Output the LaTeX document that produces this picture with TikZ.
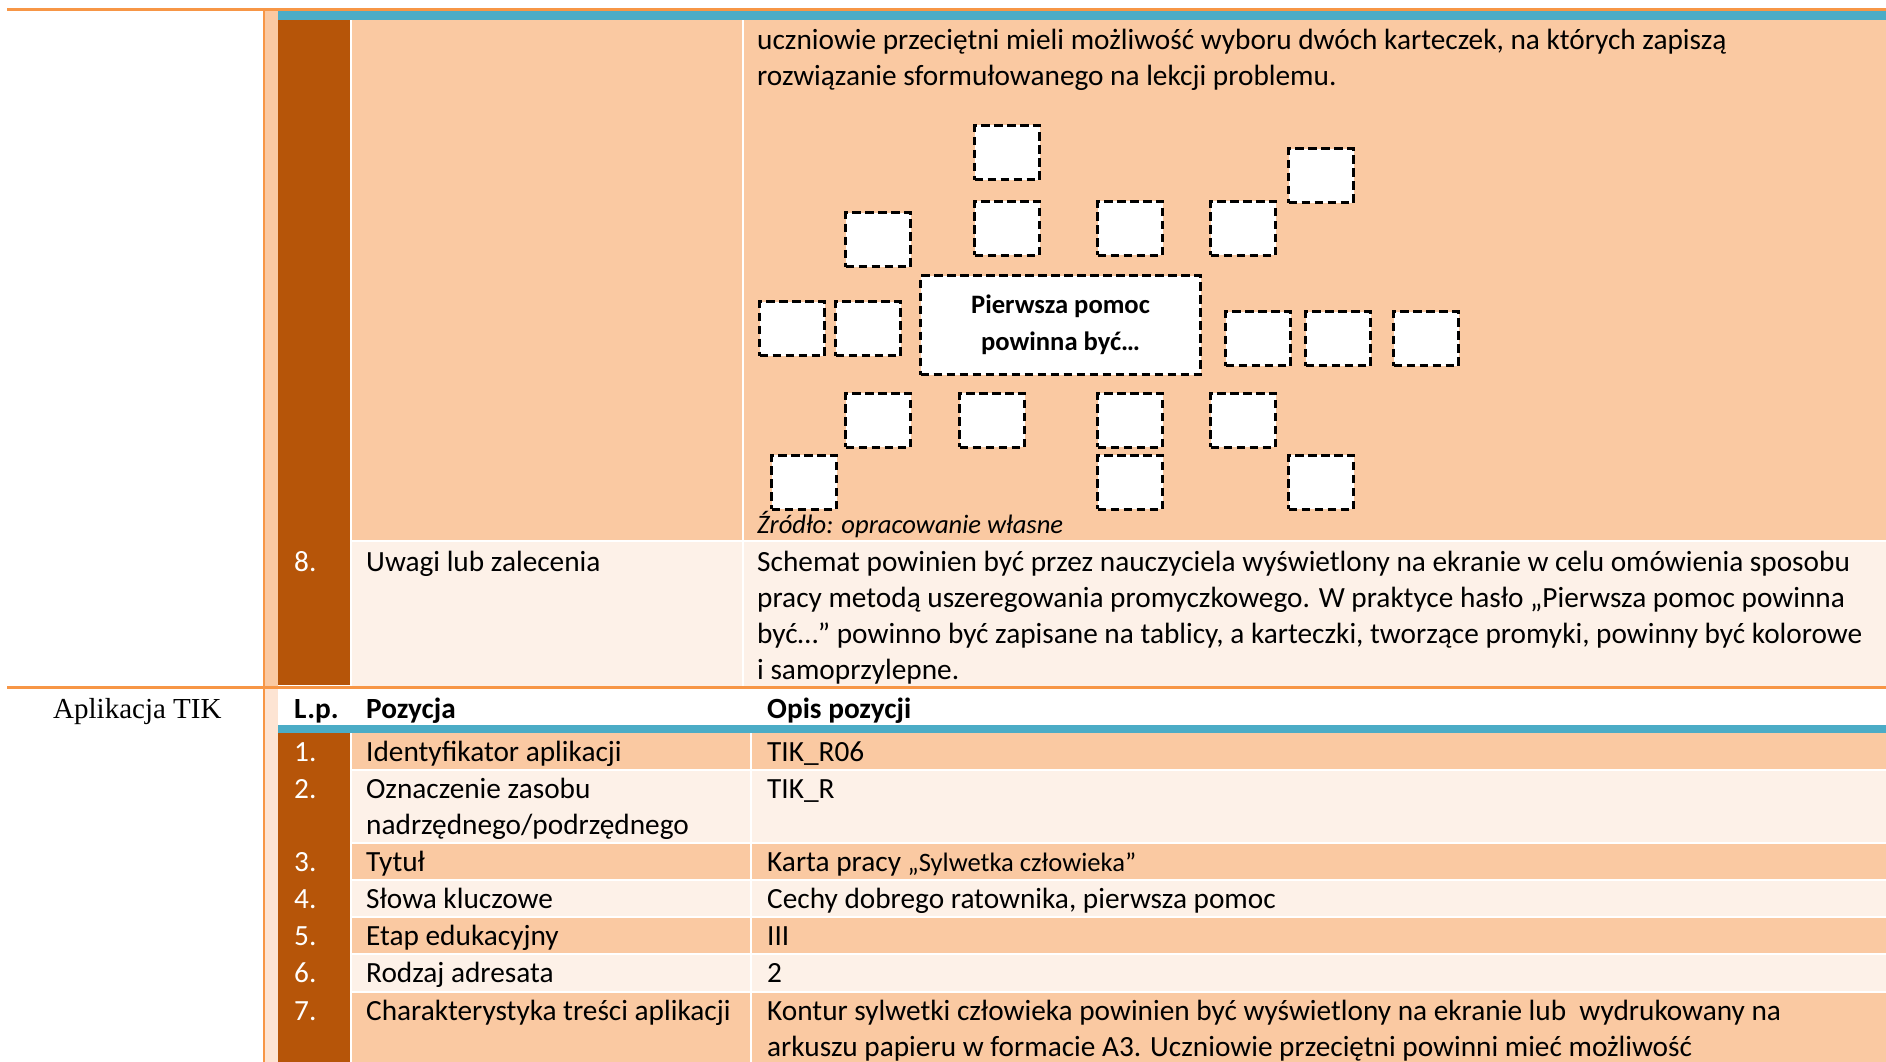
\documentclass[tikz,border=0pt]{standalone}
\usepackage{fontspec}
\setmainfont{Carlito}
\newfontfamily\capfont{Liberation Serif}
\definecolor{orng}{RGB}{247,150,70}
\definecolor{blu}{RGB}{75,172,198}
\definecolor{brwn}{RGB}{182,85,9}
\definecolor{peach}{RGB}{250,201,162}
\definecolor{lite}{RGB}{253,241,232}
\definecolor{stripc}{RGB}{253,228,211}
\tikzset{
  txt/.style={anchor=base west, inner sep=0pt, font=\fontsize{29.3}{36}\selectfont},
  numtxt/.style={txt, text=white},
  hdrtxt/.style={txt, font=\fontsize{29.3}{36}\selectfont\bfseries},
  srctxt/.style={txt, font=\fontsize{26.6}{30}\selectfont\itshape},
  sidetxt/.style={anchor=base west, inner sep=0pt, font=\capfont\fontsize{29}{34}\selectfont},
  card/.style={draw=black, line width=3pt, dash pattern=on 8.5pt off 4.5pt,
    fill=white, minimum width=65pt, minimum height=54pt, anchor=north west, inner sep=0pt},
  bigcard/.style={card, minimum width=280pt, minimum height=99pt, align=center,
    font=\fontsize{26.6}{37}\selectfont\bfseries},
  rule/.style={orng, line width=2.8pt},
}
\begin{document}
\begin{tikzpicture}[x=1pt,y=-1pt]
\useasboundingbox (0,0) rectangle (1886,1062);
\fill[white] (0,0) rectangle (1886,1062);
% ---------- upper table part ----------
\fill[peach] (265,10.5) rectangle (278,686);
\fill[blu] (278,10.5) rectangle (1886,20);
\fill[brwn] (278,20) rectangle (350,685);
\fill[peach] (352,20) rectangle (742,540);
\fill[peach] (744,20) rectangle (1886,540);
\fill[lite] (352,542) rectangle (742,686);
\fill[lite] (744,542) rectangle (1886,686);
% ---------- lower table part ----------
\fill[stripc] (265,689) rectangle (278,1062);
\fill[blu] (278,725) rectangle (1886,733);
\fill[brwn] (278,733) rectangle (350,1062);
\foreach \t/\b/\c in {733/769/peach,771/842/lite,844/879/peach,881/916/lite,918/953/peach,955/991/lite,993/1062/peach}{
  \fill[\c] (352,\t) rectangle (750,\b);
  \fill[\c] (752,\t) rectangle (1886,\b);
}
% ---------- orange rules ----------
\draw[rule] (7,9.5) -- (1886,9.5);
\draw[rule] (7,687.5) -- (1886,687.5);
\draw[orng, line width=2pt] (264,9) -- (264,1062);

% ---------- upper text ----------
\node[txt] (u1) at (757,49.5) {uczniowie przeciętni mieli możliwość wyboru dwóch karteczek, na których zapiszą};
\node[txt] (u2) at (757,85.5) {rozwiązanie sformułowanego na lekcji problemu.};

% ---------- scheme ----------
\node[bigcard] (center) at (919,274) {Pierwsza pomoc\\powinna być…};
\node[card] (c1) at (973,124) {};
\node[card] (c2) at (1287,147) {};
\node[card] (c3) at (844,211) {};
\node[card] (c4) at (973,199.5) {};
\node[card] (c5) at (1096,199.5) {};
\node[card] (c6) at (1209,199.5) {};
\node[card] (c7) at (758,300) {};
\node[card] (c8) at (834,300) {};
\node[card] (c10) at (1224,310) {};
\node[card] (c11) at (1304,310) {};
\node[card] (c12) at (1392,310) {};
\node[card] (c13) at (844,391.5) {};
\node[card] (c14) at (958,391.5) {};
\node[card] (c15) at (1096,391.5) {};
\node[card] (c16) at (1209,391.5) {};
\node[card] (c17) at (770,453.5) {};
\node[card] (c18) at (1096,453.5) {};
\node[card] (c19) at (1287,453.5) {};
\node[srctxt] (src) at (757,533) {Źródło: opracowanie własne};

% ---------- row 8 ----------
\node[numtxt] (n8) at (294,571) {8.};
\node[txt] (p8) at (366,571) {Uwagi lub zalecenia};
\node[txt] (d8a) at (757,571) {Schemat powinien być przez nauczyciela wyświetlony na ekranie w celu omówienia sposobu};
\node[txt] (d8b) at (757,607) {pracy metodą uszeregowania promyczkowego. W praktyce hasło „Pierwsza pomoc powinna};
\node[txt] (d8c) at (757,643) {być…” powinno być zapisane na tablicy, a karteczki, tworzące promyki, powinny być kolorowe};
\node[txt] (d8d) at (757,679) {i samoprzylepne.};

% ---------- lower table ----------
\node[sidetxt] (side) at (53,718.5) {Aplikacja TIK};
\node[hdrtxt] (hlp) at (294,718) {L.p.};
\node[hdrtxt] (hpoz) at (366,718) {Pozycja};
\node[hdrtxt] (hopis) at (767,718) {Opis pozycji};

\node[numtxt] (n1) at (294,761.5) {1.};
\node[txt] (p1) at (366,761.5) {Identyfikator aplikacji};
\node[txt] (d1) at (767,761.5) {TIK\_R06};

\node[numtxt] (n2) at (294,798.5) {2.};
\node[txt] (p2a) at (366,798.5) {Oznaczenie zasobu};
\node[txt] (p2b) at (366,834.5) {nadrzędnego/podrzędnego};
\node[txt] (d2) at (767,798.5) {TIK\_R};

\node[numtxt] (n3) at (294,871.5) {3.};
\node[txt] (p3) at (366,871.5) {Tytuł};
\node[txt] (d3) at (767,871.5) {Karta pracy {\fontsize{26.6}{30}\selectfont„Sylwetka człowieka”}};

\node[numtxt] (n4) at (294,908.5) {4.};
\node[txt] (p4) at (366,908.5) {Słowa kluczowe};
\node[txt] (d4) at (767,908.5) {Cechy dobrego ratownika, pierwsza pomoc};

\node[numtxt] (n5) at (294,945.5) {5.};
\node[txt] (p5) at (366,945.5) {Etap edukacyjny};
\node[txt] (d5) at (767,945.5) {III};

\node[numtxt] (n6) at (294,982.5) {6.};
\node[txt] (p6) at (366,982.5) {Rodzaj adresata};
\node[txt] (d6) at (767,982.5) {2};

\node[numtxt] (n7) at (294,1020.5) {7.};
\node[txt] (p7) at (366,1020.5) {Charakterystyka treści aplikacji};
\node[txt] (d7a) at (767,1020.5) {Kontur sylwetki człowieka powinien być wyświetlony na ekranie lub\ \ wydrukowany na};
\node[txt] (d7b) at (767,1056.5) {arkuszu papieru w formacie A3. Uczniowie przeciętni powinni mieć możliwość};
\end{tikzpicture}
\end{document}
